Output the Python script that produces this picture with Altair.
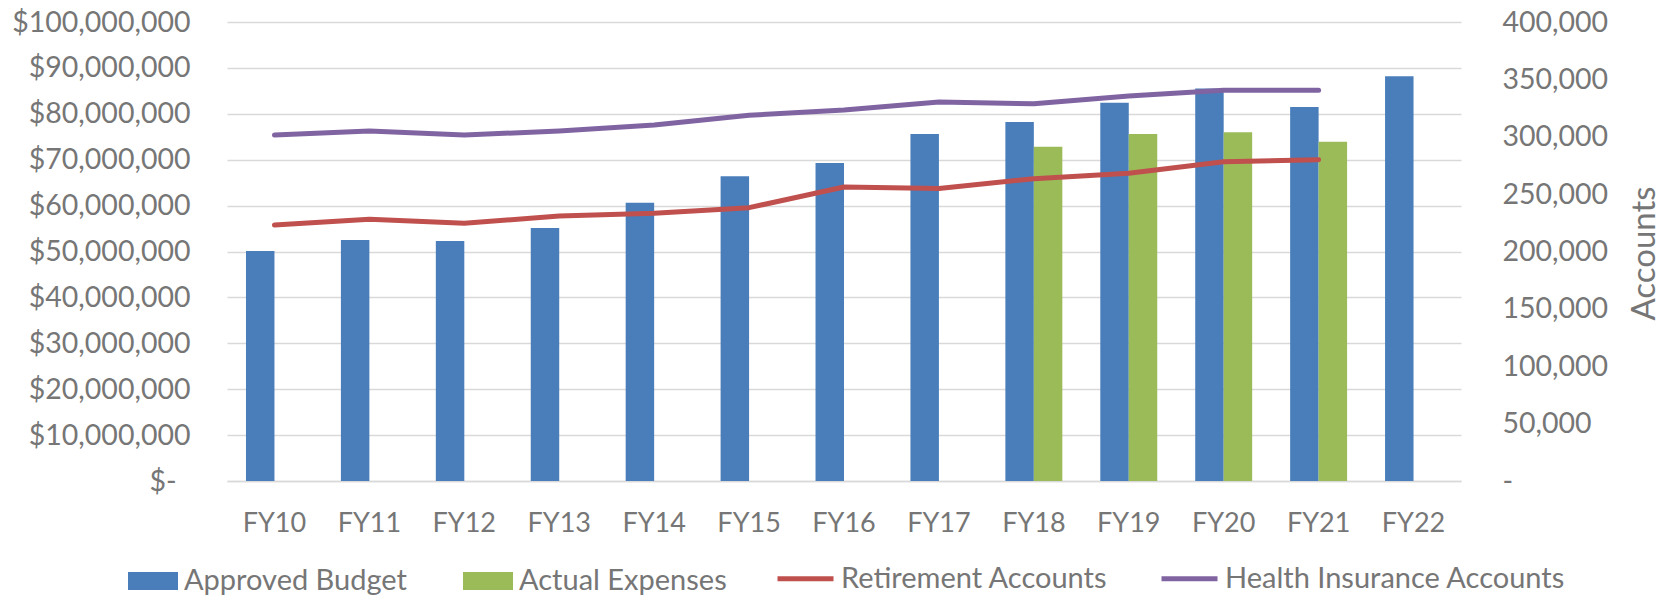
import altair as alt
import pandas as pd

years = ["FY10", "FY11", "FY12", "FY13", "FY14", "FY15", "FY16",
         "FY17", "FY18", "FY19", "FY20", "FY21", "FY22"]

approved_budget = [50.1e6, 52.5e6, 52.3e6, 55.1e6, 60.6e6, 66.4e6, 69.3e6,
                   75.6e6, 78.2e6, 82.4e6, 85.5e6, 81.5e6, 88.2e6]
actual_expenses = [None, None, None, None, None, None, None,
                   None, 72.8e6, 75.6e6, 76.0e6, 73.9e6, None]

retirement_accounts = [223100, 228100, 224600, 230900, 233300, 238200, 256200,
                       255000, 263400, 268100, 278300, 280000, None]
health_accounts = [301500, 305000, 301500, 305000, 310200, 318700, 323300,
                   330300, 328800, 335500, 340500, 340500, None]

bar_series = ["Approved Budget", "Actual Expenses"]
line_series = ["Retirement Accounts", "Health Insurance Accounts"]

bar_rows = []
for yr, a, e in zip(years, approved_budget, actual_expenses):
    if a is not None:
        bar_rows.append({"year": yr, "series": bar_series[0], "value": a})
    if e is not None:
        bar_rows.append({"year": yr, "series": bar_series[1], "value": e})
bars_df = pd.DataFrame(bar_rows)

line_rows = []
for yr, r, h in zip(years, retirement_accounts, health_accounts):
    if r is not None:
        line_rows.append({"year": yr, "series": line_series[0], "value": r})
    if h is not None:
        line_rows.append({"year": yr, "series": line_series[1], "value": h})
lines_df = pd.DataFrame(line_rows)

FONT = "Lato"
GRAY = "#767676"
GRID = "#d9d9d9"
FS = 28.5

x_enc = alt.X(
    "year:N",
    sort=years,
    scale=alt.Scale(domain=years, paddingInner=0.4, paddingOuter=0.2),
    axis=alt.Axis(title=None, labelAngle=0, ticks=False, domain=True,
                  domainColor=GRID, domainWidth=1.5, grid=False,
                  labelPadding=29, labelFontSize=27, labelFont=FONT,
                  labelColor=GRAY),
)

bars = alt.Chart(bars_df).mark_bar().encode(
    x=x_enc,
    xOffset=alt.XOffset("series:N", sort=bar_series,
                        scale=alt.Scale(domain=bar_series, paddingInner=0, paddingOuter=0)),
    y=alt.Y("value:Q",
            scale=alt.Scale(domain=[0, 100e6], nice=False),
            axis=alt.Axis(orient="left",
                          values=[i * 10e6 for i in range(11)],
                          labelExpr="datum.value == 0 ? '$-' : '$' + format(datum.value, ',')",
                          grid=True, gridColor=GRID, gridWidth=1.5,
                          ticks=False, domain=False,
                          labelPadding={"condition": {"test": "datum.value === 0", "value": 51}, "value": 37},
                          labelFontSize=FS, labelFont=FONT, labelColor=GRAY,
                          labelLimit=400, title=None)),
    color=alt.Color("series:N",
                    scale=alt.Scale(domain=bar_series, range=["#4a7ebb", "#9bbb59"]),
                    legend=alt.Legend(orient="none", legendX=-99, legendY=534,
                                      direction="horizontal", title=None,
                                      symbolType="M-1,-0.36H1V0.36H-1Z",
                                      symbolSize=2500, symbolStrokeWidth=0,
                                      labelFont=FONT, labelFontSize=29,
                                      labelColor=GRAY, labelOffset=6,
                                      labelLimit=600,
                                      columnPadding=56, padding=0)),
)

lines = alt.Chart(lines_df).mark_line(strokeWidth=5, strokeCap="round",
                                      strokeJoin="round").encode(
    x=x_enc,
    y=alt.Y("value:Q",
            scale=alt.Scale(domain=[0, 400000], nice=False),
            axis=alt.Axis(orient="right",
                          values=[i * 50000 for i in range(9)],
                          labelExpr="datum.value == 0 ? '-' : format(datum.value, ',')",
                          grid=False, ticks=False, domain=False, labelPadding=41,
                          labelFontSize=FS, labelFont=FONT, labelColor=GRAY,
                          labelLimit=400,
                          title="Accounts", titleAngle=270, titleX=183,
                          titleY=231, titleFontSize=33, titleFont=FONT,
                          titleColor=GRAY, titleFontWeight="normal",
                          titleBaseline="middle", titleAlign="center")),
    color=alt.Color("series:N",
                    scale=alt.Scale(domain=line_series, range=["#c0504d", "#8064a2"]),
                    legend=alt.Legend(orient="none", legendX=548, legendY=526,
                                      direction="horizontal", title=None,
                                      symbolType="stroke", symbolSize=3136,
                                      symbolStrokeWidth=5,
                                      labelFont=FONT, labelFontSize=29,
                                      labelColor=GRAY, labelOffset=5,
                                      labelLimit=600,
                                      columnPadding=43, padding=0)),
    order=alt.Order("year:N"),
)

chart = (
    alt.layer(bars, lines)
    .resolve_scale(y="independent", color="independent")
    .properties(
        width=1234, height=459,
        autosize=alt.AutoSizeParams(type="none"),
        padding={"left": 219, "top": 14, "right": 204, "bottom": 114},
        background="white",
    )
    .configure_view(stroke=None)
)

chart.save("out.html", embed_options={"renderer": "svg", "actions": False})
